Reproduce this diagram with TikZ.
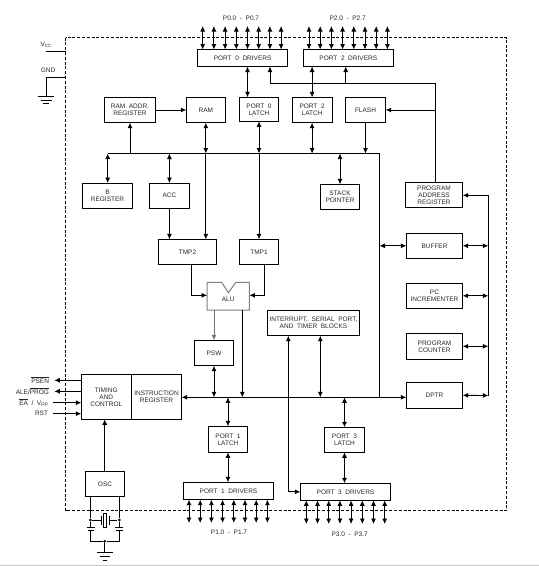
\documentclass[tikz,border=0pt]{standalone}
\usepackage{fontspec}
\setmainfont{Liberation Sans}
\usetikzlibrary{arrows.meta}
\newcommand{\boxfont}{\fontsize{6.5}{7}\selectfont\spaceskip 3.6pt\relax}
\tikzset{box/.style={draw, align=center, inner sep=0pt, outer sep=0pt}, sig/.style={anchor=east, inner sep=0pt, inner xsep=5.3pt, outer sep=0pt}, pinlabel/.style={inner sep=0pt}, dot/.style={circle, fill, inner sep=0pt, minimum size=3pt}}
\begin{document}
\begin{tikzpicture}[x=1pt, y=-1pt, line width=0.85pt, every node/.style={font=\boxfont, text=black!85}, >={Latex[length=5.5pt, width=5pt]}]
	\useasboundingbox (0,0) rectangle (539,566);
	\fill[black!22] (0,565) rectangle (539,566);
	\draw[line width=0.8pt, dash pattern=on 3pt off 1.8pt] (65.5,37.5) rectangle (506.8,510.7);
	\node[box, minimum width=90, minimum height=17] (drv0) at (242.6,58) {PORT 0 DRIVERS};
	\node[box, minimum width=90, minimum height=17] (drv2) at (348.3,58) {PORT 2 DRIVERS};
	\node[box, minimum width=51.4, minimum height=25.4] (ramaddr) at (130,110) {RAM ADDR.\\REGISTER};
	\node[box, minimum width=39, minimum height=25.4] (ram) at (205.8,110) {RAM};
	\node[box, minimum width=39.4, minimum height=24] (lat0) at (259,109.3) {PORT 0\\LATCH};
	\node[box, minimum width=39.7, minimum height=25.4] (lat2) at (312.1,110) {PORT 2\\LATCH};
	\node[box, minimum width=40.4, minimum height=25.4] (flash) at (365.5,110) {FLASH};
	\node[box, minimum width=50.4, minimum height=25.4] (breg) at (107.5,195.7) {B\\REGISTER};
	\node[box, minimum width=40.2, minimum height=25.4] (acc) at (169.4,195.7) {ACC};
	\node[box, minimum width=39.4, minimum height=25.4] (stack) at (340,197) {STACK\\POINTER};
	\node[box, minimum width=57.4, minimum height=25] (paddr) at (434,194.8) {PROGRAM\\ADDRESS\\REGISTER};
	\node[box, minimum width=58.4, minimum height=25] (tmp2) at (187.5,251.8) {TMP2};
	\node[box, minimum width=39.4, minimum height=25] (tmp1) at (259,251.8) {TMP1};
	\node[minimum width=42.3, minimum height=27.7, inner sep=0pt, outer sep=0pt] (alu) at (228.2,296.2) {};
	\draw[gray, line width=1pt] (alu.north west) -- (221.7,282.3) -- (228.3,292.7) -- (236,282.3) -- (alu.north east) -- (alu.south east) -- (alu.south west) -- cycle;
	\node[inner sep=0pt] (alutext) at (228.2,299.6) {ALU};
	\node[box, minimum width=92.4, minimum height=25.4] (irq) at (313.5,323) {INTERRUPT, SERIAL PORT,\\AND TIMER BLOCKS};
	\node[box, minimum width=39.4, minimum height=25.4] (psw) at (214,353) {PSW};
	\node[box, minimum width=50, minimum height=45] (tim) at (106.3,396.8) {TIMING\\AND\\CONTROL};
	\node[box, minimum width=50.4, minimum height=45] (ireg) at (156.5,396.8) {INSTRUCTION\\REGISTER};
	\node[box, minimum width=39.4, minimum height=26] (lat1) at (228,439.3) {PORT 1\\LATCH};
	\node[box, minimum width=90.4, minimum height=17.4] (drv1) at (228.5,491) {PORT 1 DRIVERS};
	\node[box, minimum width=39.4, minimum height=25.4] (osc) at (105,484) {OSC};
	\node[box, minimum width=40.4, minimum height=25] (lat3) at (344.5,439.8) {PORT 3\\LATCH};
	\node[box, minimum width=90.4, minimum height=17] (drv3) at (345.5,491.8) {PORT 3 DRIVERS};
	\node[box, minimum width=56.4, minimum height=25] (buffer) at (434.5,245.8) {BUFFER};
	\node[box, minimum width=56.4, minimum height=25] (pcinc) at (434.5,295.8) {PC\\INCREMENTER};
	\node[box, minimum width=56.4, minimum height=26] (pc) at (434.5,346.3) {PROGRAM\\COUNTER};
	\node[box, minimum width=56.4, minimum height=26] (dptr) at (434.5,395.3) {DPTR};
	\node[pinlabel] (lblp0) at (241,18.5) {P0.0 - P0.7};
	\node[pinlabel] (lblp2) at (347.7,18.5) {P2.0 - P2.7};
	\node[pinlabel] (lblp1) at (229,532.5) {P1.0 - P1.7};
	\node[pinlabel] (lblp3) at (349.7,534.5) {P3.0 - P3.7};
	\node[pinlabel] (vcc) at (46,45) {V\raisebox{-1.5pt}{\fontsize{4.5}{5}\selectfont CC}};
	\node[pinlabel] (gnd) at (48,70.5) {GND};
	\node[sig] (psen) at (54.3,380.3) {$\overline{\mbox{PSEN}}$};
	\node[sig] (ale) at (54.3,391.3) {ALE/$\overline{\mbox{PROG}}$};
	\node[sig] (ea) at (53.3,402.7) {$\overline{\mbox{EA}}$ / V\raisebox{-1.5pt}{\fontsize{5}{5}\selectfont PP}};
	\node[sig] (rst) at (53.3,413.7) {RST};
	\foreach \i in {0,...,7} {
		\coordinate (p0\i) at ({202.7+11.2*\i},26);
		\coordinate (p2\i) at ({309+11.2*\i},26);
		\coordinate (p1\i) at ({189+11.2*\i},523);
		\coordinate (p3\i) at ({306.3+11.2*\i},524);
		\draw[<->] (p0\i) -- (p0\i |- drv0.north);
		\draw[<->] (p2\i) -- (p2\i |- drv2.north);
		\draw[<->] (p1\i) -- (p1\i |- drv1.south);
		\draw[<->] (p3\i) -- (p3\i |- drv3.south);
	}
	\coordinate (vcct) at (46,51.5);
	\coordinate (gndt) at (46,77.5);
	\coordinate (gnde) at (46,96.5);
	\coordinate (busa) at (435.7,83.3);
	\coordinate (busw) at (107.7,153.5);
	\coordinate (buse) at (379.5,153.5);
	\coordinate (busb) at (379.5,397.3);
	\coordinate (busr) at (488.3,195.3);
	\coordinate (busq) at (488.3,395.5);
	\coordinate (irqa) at (288.3,335.7);
	\coordinate (irqb) at (320.3,335.7);
	\draw (vcct) -- (vcct -| 65.5,0);
	\draw (gndt -| 65.5,0) -- (gndt) -- (gnde);
	\draw (38,96.7) -- (54,96.7) (40.5,100) -- (51.5,100) (43,103.5) -- (49,103.5);
	\draw[<->] (drv0.south -| lat0.north) ++(-11.5,0) coordinate (drv0l) -- (drv0l |- lat0.north);
	\draw[<->] (drv2.south -| lat2.north) -- (lat2.north);
	\draw[<->] (lat2.south) -- (lat2.south |- busw);
	\draw[<-] (drv0.south -| 270,0) -- (busa -| 270,0);
	\draw[<-] (drv2.south -| 345.7,0) -- (busa -| 345.7,0);
	\draw (busa -| 270,0) -- (busa) -- (paddr.north -| busa);
	\draw[<-] (flash.east) -- (flash.east -| busa);
	\draw[->] (flash.south) -- (flash.south |- busw);
	\draw (busw) -- (buse) -- (busb);
	\draw[<-] (ramaddr.south) -- (ramaddr.south |- busw);
	\draw[->] (ramaddr.east) -- (ram.west);
	\draw[<->] (ram.south) -- (ram.south |- busw);
	\draw[->] (ram.south |- busw) -- (ram.south |- tmp2.north);
	\draw[<->] (lat0.south) -- (lat0.south |- busw);
	\draw[->] (lat0.south |- busw) -- (tmp1.north);
	\draw[<->] (busw) -- (breg.north -| busw);
	\draw[<->] (acc.north |- busw) -- (acc.north);
	\draw[->] (acc.south) -- (acc.south |- tmp2.north);
	\draw[<->] (stack.north |- busw) -- (stack.north);
	\draw[->] (tmp2.south -| 191.3,0) |- (alu.west |- 0,295.3);
	\draw[->] (tmp1.south -| 264.7,0) |- (alu.east |- 0,295.3);
	\draw[->, gray!90!black] (alu.south -| psw.north) -- (psw.north);
	\draw[<->] (psw.south) -- (psw.south |- busb);
	\draw[->] (alu.south -| 242.3,0) -- (busb -| 242.3,0);
	\draw[<->] (ireg.east |- busb) -- (dptr.west |- busb);
	\draw[<->] (irqa) -- (irqa |- drv3.west) -- (drv3.west);
	\draw[<->] (irqb) -- (irqb |- busb);
	\draw[<->] (lat1.north |- busb) -- (lat1.north);
	\draw[<->] (lat1.south) -- (lat1.south |- drv1.north);
	\draw[<->] (lat3.north |- busb) -- (lat3.north);
	\draw[<->] (lat3.south) -- (lat3.south |- drv3.north);
	\draw[<-] (psen.east) -- (psen.east -| tim.west);
	\draw[<-] (ale.east) -- (ale.east -| tim.west);
	\draw[->] (ea.east) -- (ea.east -| tim.west);
	\draw[->] (rst.east) -- (rst.east -| tim.west);
	\draw[->] (osc.north -| 104.7,0) -- (tim.south -| 104.7,0);
	\draw[<-] (paddr.east |- busr) -- (busr) -- (busq);
	\draw[<->] (buffer.east) -- (buffer.east -| busr);
	\draw[<->] (buffer.west) -- (buffer.west -| busb);
	\draw[<->] (pcinc.east) -- (pcinc.east -| busr);
	\draw[<->] (pc.east) -- (pc.east -| busr);
	\draw[<->] (dptr.east) -- (busq);
	\node[dot] (xl) at (90.3,520) {};
	\node[dot] (xr) at (119.3,520) {};
	\node[dot] (xg) at (104.7,541.3) {};
	\draw (osc.south -| xl) -- (xl) -- (90.3,527.3) (osc.south -| xr) -- (xr) -- (119.3,527.3);
	\draw (86.7,527.3) -- (94.7,527.3) (115.3,527.3) -- (123.3,527.3);
	\draw[line width=0.6pt] (87.5,530) -- (94,530) (116,530) -- (122.5,530);
	\draw (90.3,530) |- (xg) -| (119.3,530);
	\draw (xg) -- (104.7,552);
	\draw (97.3,552) -- (112.7,552) (100,556) -- (110,556) (102.5,560) -- (107,560);
	\draw (xl) -- (101,520) (101,515.7) -- (101,525) (109.3,515.7) -- (109.3,525) (109.3,520) -- (xr);
	\node[draw, minimum width=3.4, minimum height=14.4, inner sep=0pt] (xtal) at (105,520.5) {};
\end{tikzpicture}
\end{document}
